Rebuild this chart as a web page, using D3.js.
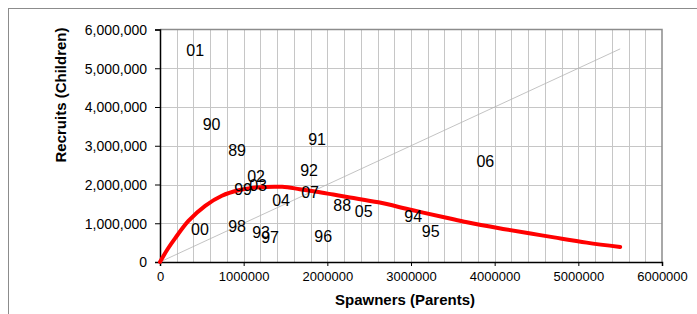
<!DOCTYPE html>
<html>
<head>
<meta charset="utf-8">
<script src="https://cdn.jsdelivr.net/npm/d3@7"></script>
<style>
  body { margin: 0; background: #fff; }
  svg { display: block; font-family: "Liberation Sans", Arial, sans-serif; }
</style>
</head>
<body>
<svg id="chart"></svg>
<script>
// year labels and their spawner / recruit values
const years = ['01', '90', '89', '91', '06', '92', '02', '99', '03', '04', '07', '88', '05', '94', '95', '00', '98', '93', '97', '96'];
const spawners = [420000, 616000, 921000, 1878000, 3888000, 1782000, 1148000, 993000, 1172000, 1447000, 1794000, 2177000, 2434000, 3026000, 3236000, 478000, 921000, 1208000, 1316000, 1950000];
const recruits = [5460000, 3557000, 2869000, 3170000, 2603000, 2371000, 2198000, 1874000, 1977000, 1580000, 1804000, 1469000, 1296000, 1168000, 781000, 851000, 910000, 755000, 637000, 670000];

// stock-recruit curve
const curveS = [0, 90000, 180000, 340000, 540000, 740000, 940000, 1140000, 1460000, 1670000, 1870000, 2070000, 2270000, 2610000, 3010000, 3410000, 3670000, 4070000, 4430000, 4710000, 5100000, 5500000];
const curveR = [0, 330000, 610000, 1060000, 1450000, 1710000, 1850000, 1920000, 1940000, 1880000, 1815000, 1740000, 1665000, 1540000, 1340000, 1150000, 1025000, 865000, 735000, 635000, 500000, 385000];

// replacement line (recruits = spawners)
const replacement = [0, 5500000];

const xTicks = [0, 1000000, 2000000, 3000000, 4000000, 5000000, 6000000];
const yTicks = [0, 1000000, 2000000, 3000000, 4000000, 5000000, 6000000];

const width = 697, height = 314;
const svg = d3.select('#chart').attr('width', width).attr('height', height);

// chart area border
svg.append('rect')
  .attr('x', 8.5).attr('y', 8.5)
  .attr('width', 720).attr('height', 330)
  .attr('fill', 'none')
  .attr('stroke', '#8c8c8c')
  .attr('stroke-width', 1);

const x = d3.scaleLinear().domain([0, 6000000]).range([160, 662]);
const y = d3.scaleLinear().domain([0, 6000000]).range([262, 29.5]);

//GRIDLINES
svg.append('g')
  .selectAll('line')
  .data(d3.range(200000, 6000000, 200000))
  .join('line')
  .attr('x1', (d) => Math.round(x(d)) + 0.5)
  .attr('x2', (d) => Math.round(x(d)) + 0.5)
  .attr('y1', y(0))
  .attr('y2', y(6000000))
  .attr('stroke', '#c6c6c6')
  .attr('stroke-width', 1);

svg.append('g')
  .selectAll('line')
  .data(yTicks.slice(1, -1))
  .join('line')
  .attr('x1', x(0))
  .attr('x2', x(6000000))
  .attr('y1', (d) => Math.round(y(d)) + 0.5)
  .attr('y2', (d) => Math.round(y(d)) + 0.5)
  .attr('stroke', '#c6c6c6')
  .attr('stroke-width', 1);

// plot border top and right
svg.append('path')
  .attr('d', `M${x(0)},${y(6000000)}H${x(6000000)}V${y(0)}`)
  .attr('fill', 'none')
  .attr('stroke', '#8c8c8c')
  .attr('stroke-width', 1.5);

//AXES
const xAxis = svg.append('g')
  .attr('transform', `translate(0,${y(0)})`)
  .call(d3.axisBottom(x).tickValues(xTicks).tickFormat(d3.format('d')).tickSizeOuter(0).tickSize(4).tickPadding(6));

const yAxis = svg.append('g')
  .attr('transform', `translate(${x(0)},0)`)
  .call(d3.axisLeft(y).tickValues(yTicks).tickFormat(d3.format(',')).tickSizeOuter(0).tickSize(5).tickPadding(8));

xAxis.selectAll('text').attr('font-size', 13).attr('fill', '#000').attr('font-family', null);
yAxis.selectAll('text').attr('font-size', 14).attr('fill', '#000').attr('font-family', null).attr('dy', '0.35em');
xAxis.select('.domain').attr('stroke', '#000').attr('stroke-width', 1.5);
yAxis.select('.domain').attr('stroke', '#000').attr('stroke-width', 1.5);

// replacement line
svg.append('line')
  .attr('x1', x(replacement[0])).attr('y1', y(replacement[0]))
  .attr('x2', x(replacement[1])).attr('y2', y(replacement[1]))
  .attr('stroke', '#b4b4b4')
  .attr('stroke-width', 0.8);

// fitted curve
const curvePts = curveS.map((s, i) => [s, curveR[i]]);
svg.append('path')
  .datum(curvePts)
  .attr('fill', 'none')
  .attr('stroke', '#ff0000')
  .attr('stroke-width', 4)
  .attr('stroke-linecap', 'round')
  .attr('d', d3.line().x((d) => x(d[0])).y((d) => y(d[1])).curve(d3.curveCatmullRom));

// year labels
svg.append('g')
  .selectAll('text')
  .data(years)
  .join('text')
  .attr('x', (d, i) => x(spawners[i]))
  .attr('y', (d, i) => y(recruits[i]))
  .attr('dy', '0.35em')
  .attr('text-anchor', 'middle')
  .attr('font-size', 16)
  .attr('fill', '#000')
  .text((d) => d);

//AXIS TITLES
svg.append('text')
  .attr('x', 405)
  .attr('y', 305)
  .attr('text-anchor', 'middle')
  .attr('font-size', 15)
  .attr('font-weight', 'bold')
  .text('Spawners (Parents)');

svg.append('text')
  .attr('transform', 'translate(66,95) rotate(-90)')
  .attr('text-anchor', 'middle')
  .attr('font-size', 15)
  .attr('font-weight', 'bold')
  .text('Recruits (Children)');
</script>
</body>
</html>
